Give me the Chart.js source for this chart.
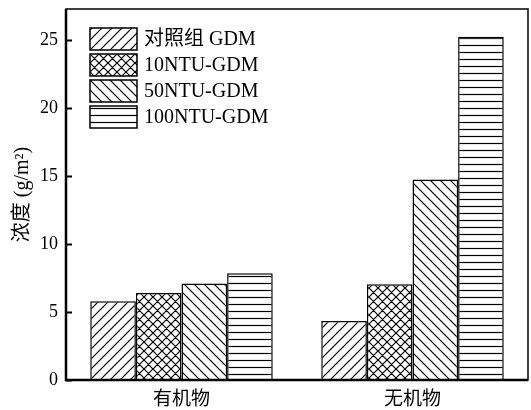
<!DOCTYPE html>
<html>
<head>
<meta charset="utf-8">
<script src="https://cdn.jsdelivr.net/npm/chart.js@4"></script>
<style>
  html, body { margin: 0; padding: 0; background: #fff; }
  #wrap { width: 531px; height: 410px; }
</style>
</head>
<body>
<div id="wrap"><canvas id="myChart" width="531" height="410"></canvas></div>
<script>
// chart data
const categories = ['有机物', '无机物'];
const seriesNames = ['对照组 GDM', '10NTU-GDM', '50NTU-GDM', '100NTU-GDM'];
const controlValues = [5.8, 4.35];
const ntu10Values = [6.4, 7.05];
const ntu50Values = [7.1, 14.75];
const ntu100Values = [7.85, 25.25];
const yTicks = [0, 5, 10, 15, 20, 25];

const FONT = '"Liberation Serif", "Times New Roman", "Noto Sans CJK SC", serif';

// build hatch patterns
function makePattern(kind) {
    const size = kind === 'horiz' ? 7 : (kind === 'cross' ? 9 : 10);
    const c = document.createElement('canvas');
    c.width = size; c.height = size;
    const g = c.getContext('2d');
    g.fillStyle = '#fff';
    g.fillRect(0, 0, size, size);
    g.strokeStyle = '#000';
    g.lineWidth = 1.2;
    g.beginPath();
    if (kind === 'fwd' || kind === 'cross') {
        g.moveTo(-1, size + 1); g.lineTo(size + 1, -1);
        g.moveTo(-1, 1); g.lineTo(1, -1);
        g.moveTo(size - 1, size + 1); g.lineTo(size + 1, size - 1);
    }
    if (kind === 'back' || kind === 'cross') {
        g.moveTo(-1, -1); g.lineTo(size + 1, size + 1);
        g.moveTo(size - 1, -1); g.lineTo(size + 1, 1);
        g.moveTo(-1, size - 1); g.lineTo(1, size + 1);
    }
    if (kind === 'horiz') {
        g.moveTo(0, size / 2); g.lineTo(size, size / 2);
    }
    g.stroke();
    return g.createPattern(c, 'repeat');
}

const ctx = document.getElementById('myChart').getContext('2d');
const patterns = [makePattern('fwd'), makePattern('cross'), makePattern('back'), makePattern('horiz')];
const seriesValues = [controlValues, ntu10Values, ntu50Values, ntu100Values];

// frame, inward ticks and legend
const framePlugin = {
    id: 'frame',
    afterDraw(chart) {
        const a = chart.chartArea;
        const g = chart.ctx;
        const y = chart.scales.y;
        g.save();
        g.strokeStyle = '#000';
        g.lineWidth = 1.5;
        g.strokeRect(a.left, a.top, a.right - a.left, a.bottom - a.top);
        g.lineWidth = 2.5;
        g.beginPath();
        g.moveTo(a.left, a.top); g.lineTo(a.left, a.bottom); g.lineTo(a.right, a.bottom);
        g.stroke();
        g.lineWidth = 2;
        g.beginPath();
        yTicks.forEach(t => {
            const py = Math.round(y.getPixelForValue(t)) + 0.5;
            g.moveTo(a.left, py); g.lineTo(a.left + 6, py);
        });
        g.stroke();

        // legend
        g.font = '20px ' + FONT;
        g.textBaseline = 'middle';
        g.textAlign = 'left';
        chart.data.datasets.forEach((ds, i) => {
            const bx = 90, by = 28 + i * 26, bw = 47, bh = 22;
            g.fillStyle = ds.backgroundColor;
            g.fillRect(bx, by, bw, bh);
            g.lineWidth = 1.5;
            g.strokeRect(bx, by, bw, bh);
            g.fillStyle = '#000';
            g.fillText(ds.label, bx + 54, by + bh / 2 + 1);
        });
        g.restore();
    }
};

new Chart(ctx, {
    type: 'bar',
    data: {
        labels: categories,
        datasets: seriesNames.map((name, i) => ({
            label: name,
            data: seriesValues[i],
            backgroundColor: patterns[i],
            borderColor: '#000',
            borderWidth: 1.5,
            categoryPercentage: 0.79,
            barPercentage: 1.0
        }))
    },
    options: {
        responsive: false,
        animation: false,
        layout: { padding: { top: 9, right: 3, left: 0, bottom: 0 } },
        plugins: {
            legend: { display: false },
            tooltip: { enabled: false }
        },
        scales: {
            x: {
                grid: { display: false, drawTicks: false },
                border: { display: false },
                ticks: { color: '#000', font: { family: FONT, size: 19 }, padding: 9 },
                afterFit(scale) { scale.height = 30; scale.paddingLeft = 0; scale.paddingRight = 0; }
            },
            y: {
                min: 0,
                max: 27.3,
                afterBuildTicks(scale) { scale.ticks = yTicks.map(v => ({ value: v })); },
                grid: { display: false, drawTicks: false },
                border: { display: false },
                ticks: { color: '#000', font: { family: FONT, size: 18 }, padding: 8 },
                title: {
                    display: true,
                    text: '浓度 (g/m²)',
                    color: '#000',
                    font: { family: FONT, size: 20 },
                    padding: { top: 11, bottom: 0 }
                },
                afterFit(scale) { scale.width = 66; scale.paddingTop = 0; scale.paddingBottom = 0; }
            }
        }
    },
    plugins: [framePlugin]
});
</script>
</body>
</html>
